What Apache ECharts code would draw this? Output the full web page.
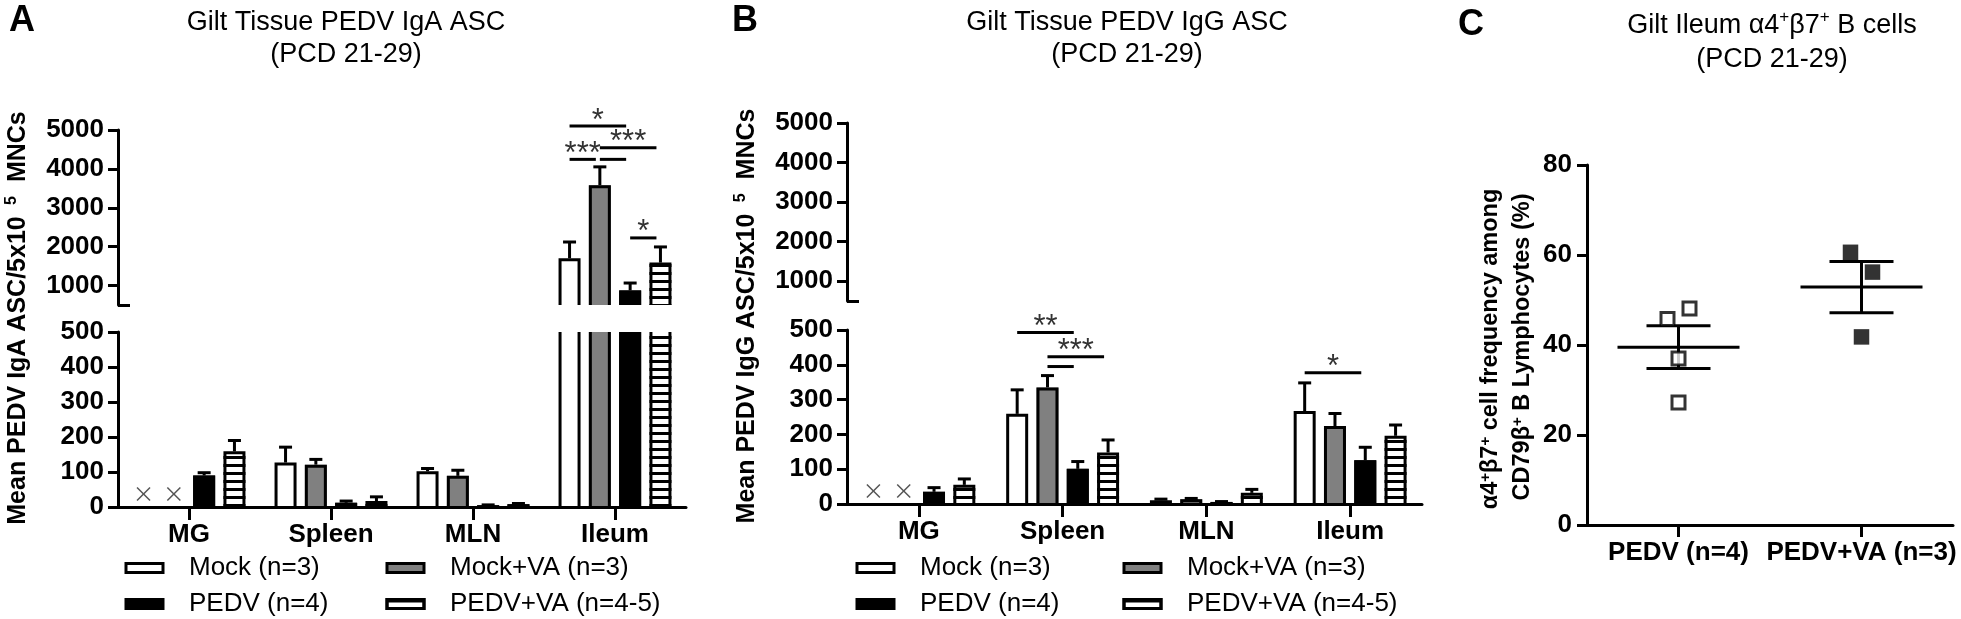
<!DOCTYPE html>
<html>
<head>
<meta charset="utf-8">
<script src="https://cdn.jsdelivr.net/npm/echarts@6/dist/echarts.min.js"></script>
<style>html,body{margin:0;padding:0;background:#fff}#c{width:1961px;height:619px}</style>
</head>
<body>
<div id="c"></div>
<script>
// ---------------- data ----------------
const tissues = ['MG', 'Spleen', 'MLN', 'Ileum'];
const groupNames = ['Mock (n=3)', 'Mock+VA (n=3)', 'PEDV (n=4)', 'PEDV+VA (n=4-5)'];

// Panel A: PEDV IgA ASC (mean, SEM); null = not detected (x)
const igaMock      = [null, 127, 102, 1700];
const igaMockVA    = [null, 121, 89, 3580];
const igaPEDV      = [90, 12, 5, 876];
const igaPEDVVA    = [159, 17, 8, 1590];
const igaMockSem   = [null, 44, 8, 420];
const igaMockVASem = [null, 15, 16, 472];
const igaPEDVSem   = [8, 5, 1, 189];
const igaPEDVVASem = [31, 12, 2, 403];

// Panel B: PEDV IgG ASC (mean, SEM)
const iggMock      = [null, 259, 11, 267];
const iggMockVA    = [null, 335, 14, 224];
const iggPEDV      = [35, 101, 6, 126];
const iggPEDVVA    = [55, 148, 32, 196];
const iggMockSem   = [null, 69, 3, 81];
const iggMockVASem = [null, 34, 2, 36];
const iggPEDVSem   = [12, 21, 1, 37];
const iggPEDVVASem = [17, 36, 10, 31];

// significance: [tissue index, from group, to group, height, label]
const igaSig = [[3, 0, 2, 5100, '*'], [3, 0, 1, 4245, '***'], [3, 1, 2, 4245, ''], [3, 1, 3, 4545, '***'], [3, 2, 3, 2225, '*']];
const iggSig = [[1, 0, 2, 493, '**'], [1, 1, 3, 423, '***'], [1, 1, 2, 395, ''], [3, 0, 2, 377, '*']];

const upperTicks = [1000, 2000, 3000, 4000, 5000];
const breakTick = [500];

// Panel C
const cCategories = ['PEDV (n=4)', 'PEDV+VA (n=3)'];
const cPEDV   = [45.8, 48.1, 37.0, 27.2];
const cPEDVVA = [60.6, 56.2, 41.8];

// ---------------- style / layout ----------------
const FONT = "'Liberation Sans', Arial, Helvetica, sans-serif";
const BAR_W = 22, BAR_STEP = 30.3, CAP = 13;
const BAR_GAP = ((BAR_STEP - BAR_W) / BAR_W * 100).toFixed(1) + '%';
const groupColors = ['#ffffff', '#808080', '#000000', '#ffffff'];
const stripe = { symbol: 'rect', symbolSize: 1, symbolKeepAspect: false, color: '#000', dashArrayX: [1, 0], dashArrayY: [3, 5], rotation: 0 };
const groupDecal = [null, null, null, stripe];

function rowsOf(vals, sems) {
  const rows = [];
  vals.forEach((arr, k) => arr.forEach((v, cat) => rows.push({ cat, k, v, sem: sems[k][cat] })));
  return rows;
}
const igaVals = [igaMock, igaMockVA, igaPEDV, igaPEDVVA];
const igaSems = [igaMockSem, igaMockVASem, igaPEDVSem, igaPEDVVASem];
const iggVals = [iggMock, iggMockVA, iggPEDV, iggPEDVVA];
const iggSems = [iggMockSem, iggMockVASem, iggPEDVSem, iggPEDVVASem];

function barSeries(k, data, xi, yi) {
  return {
    type: 'bar', name: groupNames[k], data, xAxisIndex: xi, yAxisIndex: yi,
    barWidth: BAR_W, barGap: BAR_GAP, clip: true, silent: true, z: 2,
    itemStyle: { color: groupColors[k], decal: groupDecal[k] || undefined, borderWidth: 0 }
  };
}

function lineEl(pts, color, w) {
  return { type: 'polyline', shape: { points: pts }, style: { stroke: color || '#000', lineWidth: w || 3, fill: null, lineJoin: 'miter', lineCap: 'butt' } };
}

function overlaySeries(rows, xi, yi, yMin, yMax, isLower) {
  return {
    type: 'custom', xAxisIndex: xi, yAxisIndex: yi, z: 4, silent: true, clip: false,
    data: rows.map(r => [r.cat, yMin]),
    renderItem(params, api) {
      const r = rows[params.dataIndex];
      const base = api.coord([r.cat, yMin]);
      const xc = base[0] + (r.k - 1.5) * BAR_STEP;
      const yBase = base[1];
      const children = [];
      if (r.v == null) {
        if (isLower) {
          const cy = yBase - 13, h = 6.5;
          children.push(lineEl([[xc - h, cy - h], [xc + h, cy + h]], '#555', 1.5));
          children.push(lineEl([[xc - h, cy + h], [xc + h, cy - h]], '#555', 1.5));
        }
        return { type: 'group', children };
      }
      if (r.v <= yMin) return null;
      const clipped = r.v > yMax;
      const yTop = api.coord([r.cat, Math.min(r.v, yMax)])[1];
      const xl = xc - BAR_W / 2 + 1.5, xr = xc + BAR_W / 2 - 1.5;
      if (clipped) {
        children.push(lineEl([[xl, yBase], [xl, yTop]]));
        children.push(lineEl([[xr, yBase], [xr, yTop]]));
      } else {
        children.push(lineEl([[xl, yBase], [xl, yTop + 1.5], [xr, yTop + 1.5], [xr, yBase]]));
        const yErr = api.coord([r.cat, r.v + r.sem])[1];
        children.push(lineEl([[xc, yTop], [xc, yErr]]));
        children.push(lineEl([[xc - CAP / 2, yErr], [xc + CAP / 2, yErr]]));
      }
      return { type: 'group', children };
    }
  };
}

function sigSeries(sig, xi, yi) {
  return {
    type: 'custom', xAxisIndex: xi, yAxisIndex: yi, z: 6, silent: true, clip: false,
    data: sig.map(s => [s[0], s[3]]),
    renderItem(params, api) {
      const s = sig[params.dataIndex];
      const p = api.coord([s[0], s[3]]);
      const x1 = p[0] + (s[1] - 1.5) * BAR_STEP, x2 = p[0] + (s[2] - 1.5) * BAR_STEP - 4;
      const children = [{ type: 'line', shape: { x1, y1: p[1], x2, y2: p[1] }, style: { stroke: '#000', lineWidth: 3 } }];
      if (s[4]) children.push({ type: 'text', style: { text: s[4], x: (x1 + x2) / 2, y: p[1] - 5, align: 'center', verticalAlign: 'middle', font: '31px ' + FONT, fill: '#333' } });
      return { type: 'group', children };
    }
  };
}

function jitter(vals, close, step) {
  const off = vals.map(() => 0), used = new Set();
  vals.forEach((v, i) => {
    if (used.has(i)) return;
    const cl = [i];
    vals.forEach((w, j) => { if (j > i && !used.has(j) && Math.abs(w - v) < close) cl.push(j); });
    if (cl.length > 1) cl.forEach((j, n) => { off[j] = (n - (cl.length - 1) / 2) * step; used.add(j); });
  });
  return off;
}
function stats(vals) {
  const n = vals.length, m = vals.reduce((a, b) => a + b, 0) / n;
  const sd = Math.sqrt(vals.reduce((a, b) => a + (b - m) * (b - m), 0) / (n - 1));
  return { m, sem: sd / Math.sqrt(n) };
}

// ---------------- axes ----------------
const axisLine = { show: true, lineStyle: { color: '#000', width: 3 } };
const tickStyle = { color: '#000', width: 3 };
const plain = v => String(v);
const tickLabel = { color: '#000', fontSize: 26, fontWeight: 'bold', fontFamily: FONT, margin: 14, formatter: plain };

function upperY(grid) {
  return [
    { type: 'value', gridIndex: grid, position: 'left', min: 500, max: 5000, axisLine,
      axisTick: { show: true, length: 10, lineStyle: tickStyle, customValues: upperTicks },
      axisLabel: Object.assign({ customValues: upperTicks }, tickLabel), splitLine: { show: false } },
    { type: 'value', gridIndex: grid, position: 'left', min: 500, max: 5000, axisLine: { show: false },
      axisTick: { show: true, inside: true, length: 12, lineStyle: tickStyle, customValues: breakTick },
      axisLabel: { show: false }, splitLine: { show: false } }
  ];
}
function lowerY(grid) {
  return { type: 'value', gridIndex: grid, position: 'left', min: 0, max: 500, interval: 100, axisLine,
    axisTick: { show: true, length: 10, lineStyle: tickStyle }, axisLabel: tickLabel, splitLine: { show: false } };
}
function hiddenX(grid) { return { type: 'category', gridIndex: grid, data: tissues, show: false }; }
function lowerX(grid) {
  return { type: 'category', gridIndex: grid, data: tissues, z: 10, axisLine,
    axisTick: { show: true, alignWithLabel: true, length: 13, lineStyle: tickStyle },
    axisLabel: { interval: 0, color: '#000', fontSize: 26, fontWeight: 'bold', fontFamily: FONT, margin: 15 } };
}

const grids = [
  { left: 118, top: 130, width: 568, height: 175 },
  { left: 118, top: 332, width: 568, height: 175 },
  { left: 847, top: 123, width: 575, height: 178 },
  { left: 847, top: 330, width: 575, height: 174 },
  { left: 1587, top: 165, width: 366, height: 360 }
].map(g => Object.assign({ containLabel: false, outerBoundsMode: 'none' }, g));

const xAxes = [hiddenX(0), lowerX(1), hiddenX(2), lowerX(3),
  { type: 'category', gridIndex: 4, data: cCategories, z: 10, axisLine,
    axisTick: { show: true, alignWithLabel: true, length: 12, lineStyle: tickStyle },
    axisLabel: { interval: 0, color: '#000', fontSize: 26, fontWeight: 'bold', fontFamily: FONT, margin: 15 } }];
const yAxes = [].concat(upperY(0), [lowerY(1)], upperY(2), [lowerY(3)], [
  { type: 'value', gridIndex: 4, position: 'left', min: 0, max: 80, interval: 20, axisLine,
    axisTick: { show: true, length: 10, lineStyle: tickStyle },
    axisLabel: Object.assign({}, tickLabel, { fontSize: 26, margin: 15 }), splitLine: { show: false } }]);
// yAxis indices: 0 A-up, 1 A-up cap, 2 A-low, 3 B-up, 4 B-up cap, 5 B-low, 6 C

// ---------------- series ----------------
const series = [];
[[igaVals, igaSems, 0, 0, 1, 2, igaSig], [iggVals, iggSems, 2, 3, 3, 5, iggSig]].forEach(([vals, sems, xu, yu, xl, yl]) => {
  vals.forEach((arr, k) => {
    series.push(barSeries(k, arr.map(v => (v != null && v > 500) ? v : '-'), xu, yu));
    series.push(barSeries(k, arr.map(v => v == null ? '-' : v), xl, yl));
  });
  const rows = rowsOf(vals, sems);
  series.push(overlaySeries(rows, xu, yu, 500, 5000, false));
  series.push(overlaySeries(rows, xl, yl, 0, 500, true));
});
series.push(sigSeries(igaSig, 0, 0));
series.push(sigSeries(iggSig, 3, 5));

const cGroups = [cPEDV, cPEDVVA];
cGroups.forEach((vals, ci) => {
  const off = jitter(vals, 5, 22);
  series.push({
    type: 'scatter', xAxisIndex: 4, yAxisIndex: 6, silent: true, z: 5, symbol: 'rect',
    symbolSize: ci === 0 ? 13 : 15.5,
    itemStyle: ci === 0 ? { color: '#fff', borderColor: '#000', borderWidth: 3 } : { color: '#000', borderWidth: 0 },
    data: vals.map((v, i) => ({ value: [ci, v], symbolOffset: [off[i], 0] }))
  });
});
const cStats = cGroups.map(stats);
series.push({
  type: 'custom', xAxisIndex: 4, yAxisIndex: 6, z: 4, silent: true, clip: false,
  data: cStats.map((s, i) => [i, s.m]),
  renderItem(params, api) {
    const s = cStats[params.dataIndex];
    const p = api.coord([params.dataIndex, s.m]);
    const yHi = api.coord([params.dataIndex, s.m + s.sem])[1];
    const yLo = api.coord([params.dataIndex, s.m - s.sem])[1];
    return { type: 'group', children: [
      lineEl([[p[0] - 61, p[1]], [p[0] + 61, p[1]]]),
      lineEl([[p[0] - 32, yHi], [p[0] + 32, yHi]]),
      lineEl([[p[0] - 32, yLo], [p[0] + 32, yLo]]),
      lineEl([[p[0], yHi], [p[0], yLo]])
    ] };
  }
});

// ---------------- legends ----------------
function legendCol(left, top, names) {
  return { orient: 'vertical', left, top, data: names, icon: 'rect', itemWidth: 37, itemHeight: 9, itemGap: 10,
    selectedMode: false, padding: 0,
    itemStyle: { borderColor: '#000', borderWidth: 3 },
    textStyle: { color: '#000', fontSize: 26, fontFamily: FONT, lineHeight: 24, padding: [0, 0, 0, 21] } };
}
const legends = [
  legendCol(124.5, 555, [groupNames[0], groupNames[2]]),
  legendCol(385.5, 555, [groupNames[1], groupNames[3]]),
  legendCol(855.5, 555, [groupNames[0], groupNames[2]]),
  legendCol(1122.5, 555, [groupNames[1], groupNames[3]])
];

// ---------------- texts ----------------
const bold = (s) => ({ fontSize: s, fontWeight: 'bold', fontFamily: FONT, fill: '#000' });
function tx(x, y, text, style, extra) {
  return Object.assign({ type: 'text', x, y, silent: true, style: Object.assign({ text, fill: '#000', fontFamily: FONT }, style) }, extra || {});
}
const yLabelRich = { a: Object.assign({ lineHeight: 28 }, bold(25)), s: Object.assign({ lineHeight: 28, verticalAlign: 'top' }, bold(16)) };
const cRich = { b: Object.assign({ lineHeight: 26 }, bold(23.5)), s: Object.assign({ lineHeight: 26, verticalAlign: 'top' }, bold(15)) };
const titleRich = { t: { fontSize: 27, fontFamily: FONT, fill: '#000', lineHeight: 34 }, s: { fontSize: 17, fontFamily: FONT, fill: '#000', lineHeight: 34, verticalAlign: 'top' } };

const graphic = [
  tx(9, 21, 'A', { fontSize: 36, fontWeight: 'bold', verticalAlign: 'middle' }),
  tx(732, 21, 'B', { fontSize: 36, fontWeight: 'bold', verticalAlign: 'middle' }),
  tx(1458, 25, 'C', { fontSize: 36, fontWeight: 'bold', verticalAlign: 'middle' }),
  tx(346, 7, 'Gilt Tissue PEDV IgA ASC\n(PCD 21-29)', { fontSize: 27, lineHeight: 32, align: 'center', verticalAlign: 'top' }),
  tx(1127, 7, 'Gilt Tissue PEDV IgG ASC\n(PCD 21-29)', { fontSize: 27, lineHeight: 32, align: 'center', verticalAlign: 'top' }),
  tx(1772, 9, '{t|Gilt Ileum α4}{s|+}{t|β7}{s|+}{t| B cells}\n{t|(PCD 21-29)}', { rich: titleRich, align: 'center', verticalAlign: 'top' }),
  tx(18, 318, '{a|Mean PEDV IgA ASC/5x10 }{s| 5}{a|  MNCs}', { rich: yLabelRich, align: 'center', verticalAlign: 'middle' }, { rotation: Math.PI / 2 }),
  tx(747, 316, '{a|Mean PEDV IgG ASC/5x10 }{s| 5}{a|  MNCs}', { rich: yLabelRich, align: 'center', verticalAlign: 'middle' }, { rotation: Math.PI / 2 }),
  tx(1491, 349, '{b|α4}{s|+}{b|β7}{s|+}{b| cell frequency among}', { rich: cRich, align: 'center', verticalAlign: 'middle' }, { rotation: Math.PI / 2 }),
  tx(1523, 347, '{b|CD79β}{s|+}{b| B Lymphocytes (%)}', { rich: cRich, align: 'center', verticalAlign: 'middle' }, { rotation: Math.PI / 2 })
];

const chart = echarts.init(document.getElementById('c'), null, { renderer: 'canvas' });
chart.setOption({
  animation: false,
  backgroundColor: '#fff',
  textStyle: { fontFamily: FONT },
  grid: grids, xAxis: xAxes, yAxis: yAxes, series, legend: legends, graphic
});
</script>
</body>
</html>
